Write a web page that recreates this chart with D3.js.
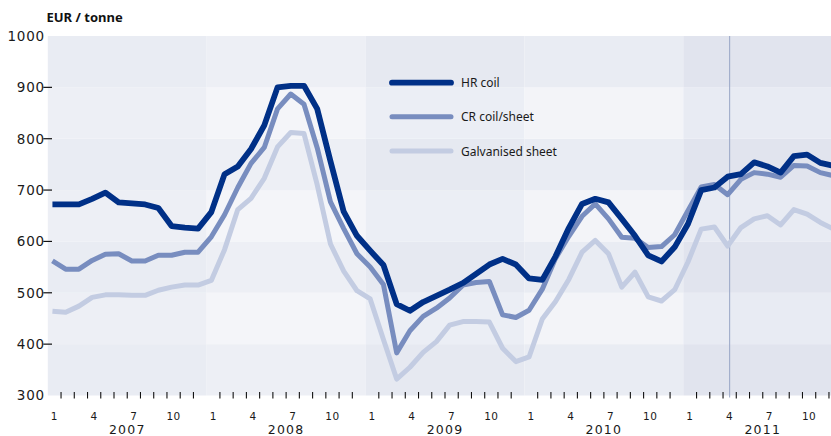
<!DOCTYPE html>
<html>
<head>
<meta charset="utf-8">
<script src="https://cdn.jsdelivr.net/npm/d3@7/dist/d3.min.js"></script>
<style>
  html, body { margin: 0; padding: 0; background: #ffffff; }
  svg { display: block; }
</style>
</head>
<body>
<svg id="chart" width="831" height="436"></svg>
<script>
// ---- data (monthly, Jan 2007 .. Dec 2011) ----
const years = [2007, 2008, 2009, 2010, 2011];
const monthLabels = [1, 4, 7, 10];
const yTickValues = [300, 400, 500, 600, 700, 800, 900, 1000];
const seriesNames = ["HR coil", "CR coil/sheet", "Galvanised sheet"];

const hrCoil = [
  672, 672, 672, 683, 695, 676, 674, 672, 665, 630, 627, 625,
  657, 731, 746, 780, 826, 900, 903, 903, 858, 756, 658, 611,
  582, 554, 478, 465, 482, 494, 506, 519, 537, 555, 566, 555,
  528, 525, 571, 626, 673, 683, 676, 644, 611, 573, 561, 589,
  634, 700, 705, 726, 731, 754, 746, 734, 766, 769, 753, 747
];
const crCoil = [
  562, 546, 546, 563, 575, 576, 562, 562, 573, 573, 579, 579,
  609, 652, 705, 752, 783, 858, 887, 867, 782, 677, 625, 576,
  550, 516, 383, 426, 454, 470, 490, 515, 520, 522, 457, 452,
  466, 507, 567, 610, 649, 673, 644, 608, 606, 588, 590, 613,
  660, 706, 711, 691, 721, 734, 731, 725, 748, 747, 734, 728
];
const galvanised = [
  464, 462, 474, 491, 496, 496, 495, 495, 505, 511, 515, 515,
  524, 584, 662, 684, 723, 784, 812, 810, 710, 595, 542, 504,
  488, 409, 332, 355, 384, 405, 437, 444, 444, 443, 392, 366,
  375, 449, 483, 526, 579, 602, 576, 511, 540, 492, 484, 506,
  560, 624, 628, 591, 627, 644, 650, 632, 662, 653, 637, 624
];
const markerMonth = 51.5; // April 2011

// ---- layout ----
const W = 831, H = 436;
const svg = d3.select("#chart");
const x = d3.scaleLinear().domain([0, 60]).range([47.8, 842.2]);
const y = d3.scaleLinear().domain([300, 1000]).range([395.5, 36]);
const plotRight = W;

// background cells: year columns x 100-unit rows
const yearShades = [
  ["#e9ecf3", "#edeff5"],
  ["#edeff5", "#f4f5f9"],
  ["#e6e9f1", "#ebeef5"],
  ["#e9ecf3", "#f3f4f8"],
  ["#e1e4ee", "#e8ebf3"]
];
const bg = svg.append("g");
years.forEach((yr, i) => {
  const x0 = x(i * 12), x1 = Math.min(x(i * 12 + 12), plotRight);
  for (let v = 300; v < 1000; v += 100) {
    const idx = ((v - 300) / 100) % 2 === 0 ? 0 : 1;
    bg.append("rect")
      .attr("x", x0).attr("width", x1 - x0)
      .attr("y", y(v + 100)).attr("height", y(v) - y(v + 100))
      .attr("fill", yearShades[i][idx]);
  }
});

// marker line
svg.append("line")
  .attr("x1", x(markerMonth)).attr("x2", x(markerMonth))
  .attr("y1", y(1000)).attr("y2", y(300) + 2)
  .attr("stroke", "#97a5c5").attr("stroke-width", 1);

// clip for the lines
svg.append("clipPath").attr("id", "plotclip")
  .append("rect")
  .attr("x", x(0)).attr("y", y(1000) - 5)
  .attr("width", plotRight - x(0)).attr("height", y(300) - y(1000) + 10);

const line = d3.line()
  .x((d, i) => x(i + 0.35))
  .y(d => y(d));

const series = [
  { name: seriesNames[2], data: galvanised, color: "#c3cce2", width: 5 },
  { name: seriesNames[1], data: crCoil, color: "#788dbf", width: 5 },
  { name: seriesNames[0], data: hrCoil, color: "#003087", width: 5.8 }
];
const lines = svg.append("g").attr("clip-path", "url(#plotclip)");
series.forEach(s => {
  lines.append("path")
    .datum(s.data)
    .attr("d", line)
    .attr("fill", "none")
    .attr("stroke", s.color)
    .attr("stroke-width", s.width)
    .attr("stroke-linejoin", "round")
    .attr("stroke-linecap", "butt");
});

// y axis
const yAx = svg.append("g");
yTickValues.forEach(v => {
  yAx.append("text")
    .attr("x", 45).attr("y", y(v) + 4.8)
    .attr("text-anchor", "end")
    .attr("font-family", "DejaVu Sans")
    .attr("font-size", 13.5)
    .attr("letter-spacing", 0.8)
    .attr("fill", "#1a1a1a")
    .text(v);
  if (v > 300 && v < 1000) {
    yAx.append("line")
      .attr("x1", 43.3).attr("x2", 52)
      .attr("y1", y(v)).attr("y2", y(v))
      .attr("stroke", "#111").attr("stroke-width", 1.2);
  }
});

// x axis ticks (month boundaries, none at year boundaries)
const xAx = svg.append("g");
d3.range(1, 60).filter(m => m % 12 !== 0 && x(m) <= plotRight).forEach(m => {
  xAx.append("line")
    .attr("x1", x(m)).attr("x2", x(m))
    .attr("y1", y(300) - 3.5).attr("y2", y(300) + 3)
    .attr("stroke", "#111").attr("stroke-width", 1.1);
});
years.forEach((yr, i) => {
  monthLabels.forEach(mo => {
    const cx = x(i * 12 + mo - 0.5);
    if (cx > plotRight) return;
    xAx.append("text")
      .attr("x", cx).attr("y", 419.5)
      .attr("text-anchor", "middle")
      .attr("font-family", "DejaVu Sans")
      .attr("font-size", 10.5)
      .attr("letter-spacing", 0.5)
      .attr("fill", "#1a1a1a")
      .text(mo);
  });
  xAx.append("text")
    .attr("x", x(i * 12 + 6)).attr("y", 433.5)
    .attr("text-anchor", "middle")
    .attr("font-family", "DejaVu Sans")
    .attr("font-size", 12.5)
    .attr("letter-spacing", 1.2)
    .attr("fill", "#1a1a1a")
    .text(yr);
});

// unit title
svg.append("text")
  .attr("x", 46.5).attr("y", 21.7)
  .attr("font-family", "Noto Sans")
  .attr("font-weight", "bold")
  .attr("font-size", 13)
  .attr("fill", "#111")
  .text("EUR / tonne");

// legend
const legendItems = [series[2], series[1], series[0]];
const legendY = [82.7, 116.7, 151];
const lg = svg.append("g");
legendItems.forEach((s, i) => {
  lg.append("line")
    .attr("x1", 392).attr("x2", 451)
    .attr("y1", legendY[i]).attr("y2", legendY[i])
    .attr("stroke", s.color).attr("stroke-width", s.width)
    .attr("stroke-linecap", "round");
  lg.append("text")
    .attr("x", 461).attr("y", legendY[i] + 4.5)
    .attr("font-family", "Noto Sans")
    .attr("font-size", 12)
    .attr("fill", "#1a1a1a")
    .text(s.name);
});
</script>
</body>
</html>
